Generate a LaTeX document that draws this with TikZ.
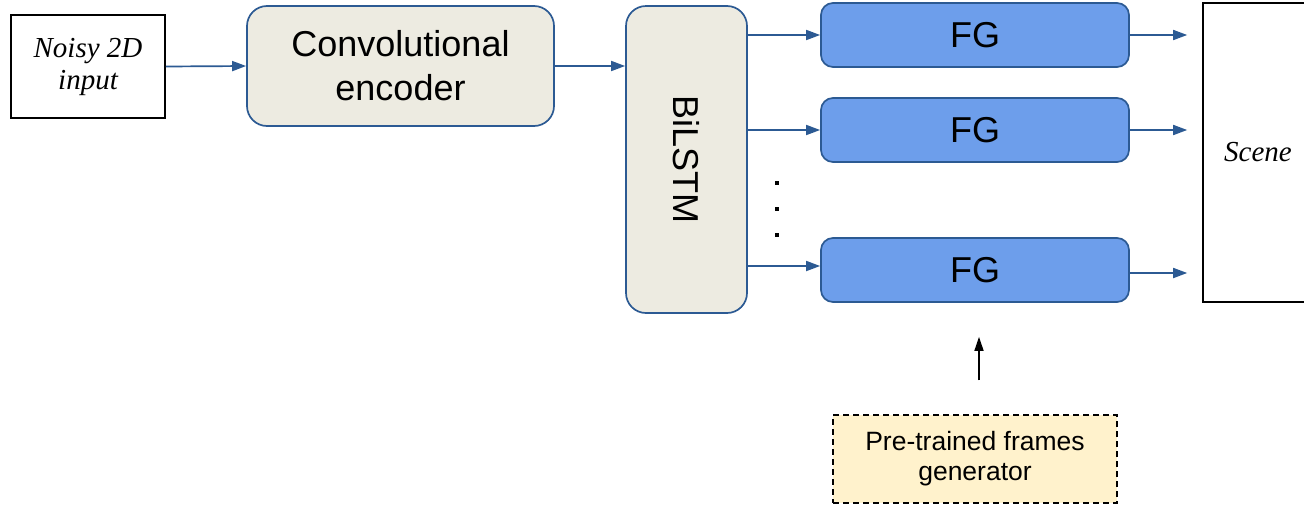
\documentclass[tikz,border=0pt]{standalone}
\usepackage{fontspec}
\setmainfont{Liberation Serif}
\setsansfont{Liberation Sans}
\usetikzlibrary{arrows.meta}
\definecolor{edgeblue}{HTML}{2C5A93}
\definecolor{beige}{HTML}{EDEBE1}
\definecolor{fgblue}{HTML}{6D9EEB}
\definecolor{paleyellow}{HTML}{FFF2CC}
\tikzset{
  plainbox/.style={draw=black, line width=1.6pt, fill=white, inner sep=0pt,
    font=\fontsize{29}{32}\selectfont\itshape, align=center},
  stagebox/.style={draw=edgeblue, line width=1.7pt, fill=beige, rounded corners=20pt,
    inner sep=0pt, font=\sffamily\fontsize{36}{44}\selectfont, align=center},
  fgbox/.style={draw=edgeblue, line width=1.7pt, fill=fgblue, rounded corners=12pt,
    minimum width=308pt, minimum height=64pt, inner sep=0pt,
    font=\sffamily\fontsize{36}{40}\selectfont},
  pretrained/.style={draw=black, line width=1.5pt, dash pattern=on 6pt off 4pt,
    fill=paleyellow, minimum width=284pt, minimum height=88pt, inner sep=0pt,
    font=\sffamily\fontsize{26.5}{32}\selectfont, align=center},
  flow/.style={draw=edgeblue, line width=1.7pt,
    -{Triangle[length=14pt,width=10pt]}},
  feed/.style={draw=black, line width=1.6pt,
    -{Triangle[length=14pt,width=9pt]}},
  dotmark/.style={fill=black, minimum size=3.5pt, inner sep=0pt}
}
\begin{document}
\begin{tikzpicture}[x=1pt,y=-1pt]
\useasboundingbox (0,0) rectangle (1304,504);

% main pipeline
\node[plainbox, minimum width=154pt, minimum height=103pt] (noisy) at (88,66.5) {Noisy 2D\\input};
\node[stagebox, minimum width=307pt, minimum height=120pt] (conv) at (400.5,66) {Convolutional\\encoder};
\node[stagebox, minimum width=121pt, minimum height=307pt] (lstm) at (686.5,159.5) {};
\node[font=\sffamily\fontsize{36}{40}\selectfont, rotate=-90] (lstmtext) at (lstm.center) {BiLSTM};

% frame generators
\node[fgbox] (fg1) at (975,35) {FG};
\node[fgbox] (fg2) at (975,130) {FG};
\node[fgbox] (fg3) at (975,270) {FG};

% ellipsis between generators
\node[dotmark] (d1) at (777,183) {};
\node[dotmark] (d2) at (777,209) {};
\node[dotmark] (d3) at (777,235) {};

% output scene
\node[plainbox, minimum width=110pt, minimum height=299pt] (scene) at (1258,152.5) {Scene};

% shared pre-trained generator
\node[pretrained] (pre) at (975,459) {Pre-trained frames\\[-2pt]generator};

% connectors
\draw[flow] (noisy.east) -- (conv.west);
\draw[flow] (conv.east) -- (conv.east -| lstm.west);
\draw[flow] (lstm.east |- fg1.west) -- (fg1.west);
\draw[flow] (lstm.east |- fg2.west) -- (fg2.west);
\draw[flow] ([yshift=4pt]lstm.east |- fg3.west) -- ([yshift=4pt]fg3.west);
\draw[flow, shorten >=15pt] (fg1.east) -- (fg1.east -| scene.west);
\draw[flow, shorten >=15pt] (fg2.east) -- (fg2.east -| scene.west);
\draw[flow, shorten >=15pt] ([yshift=-3pt]fg3.east) -- ([yshift=-3pt]fg3.east -| scene.west);
\draw[feed, shorten <=34pt, shorten >=34pt] ([xshift=4pt]pre.north) -- ([xshift=4pt]fg3.south);
\end{tikzpicture}
\end{document}
